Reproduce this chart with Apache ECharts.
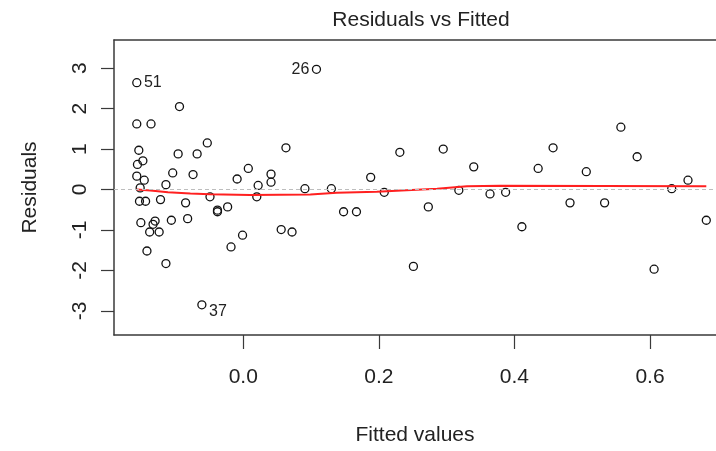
<!DOCTYPE html>
<html>
<head>
<meta charset="utf-8">
<script src="https://cdn.jsdelivr.net/npm/echarts@6/dist/echarts.min.js"></script>
<style>
html,body{margin:0;padding:0;background:#fff;}
#chart{width:716px;height:451px;}
</style>
</head>
<body>
<div id="chart"></div>
<script>
// ---- data ----
const fittedValues = [
  -0.157,-0.094,-0.157,-0.136,-0.154,-0.053,-0.096,-0.068,-0.148,-0.156,
  -0.104,-0.074,-0.157,-0.146,0.0075,-0.009,-0.114,0.022,-0.152,-0.153,
  -0.144,-0.122,-0.085,-0.049,0.020,-0.038,-0.038,-0.023,-0.151,-0.130,
  -0.133,-0.106,-0.082,-0.138,-0.124,-0.001,-0.018,-0.142,-0.114,-0.061,
  0.108,0.063,0.231,0.295,0.340,0.188,0.041,0.041,0.091,0.130,
  0.208,0.148,0.167,0.056,0.072,0.273,0.251,0.318,0.364,0.387,
  0.411,0.557,0.457,0.435,0.581,0.506,0.656,0.632,0.482,0.533,
  0.683,0.606
];
const residuals = [
  2.64,2.05,1.62,1.62,0.97,1.15,0.88,0.88,0.71,0.62,
  0.41,0.37,0.33,0.23,0.52,0.26,0.12,0.10,0.04,-0.29,
  -0.29,-0.25,-0.33,-0.18,-0.18,-0.51,-0.55,-0.43,-0.82,-0.78,
  -0.86,-0.76,-0.72,-1.05,-1.05,-1.13,-1.42,-1.52,-1.83,-2.85,
  2.97,1.03,0.92,1.00,0.56,0.30,0.38,0.18,0.02,0.02,
  -0.07,-0.55,-0.55,-0.99,-1.05,-0.43,-1.90,-0.02,-0.11,-0.07,
  -0.92,1.54,1.03,0.52,0.81,0.44,0.23,0.02,-0.33,-0.33,
  -0.76,-1.97
];
// labelled observations: index into arrays above, text, side
const idIndex = [0, 40, 39];
const idText  = ['51', '26', '37'];
const idSide  = ['right', 'left', 'right'];
// lowess smoother (red line)
const smoothX = [-0.157,-0.137,-0.111,-0.078,-0.049,0.010,0.099,0.138,0.197,0.241,0.286,0.330,0.379,0.683];
const smoothY = [0.0,-0.025,-0.066,-0.099,-0.116,-0.135,-0.123,-0.081,-0.057,-0.017,0.017,0.081,0.091,0.081];
const xTicks = [0.0, 0.2, 0.4, 0.6];
const yTicks = [-3, -2, -1, 0, 1, 2, 3];
const titleText = 'Residuals vs Fitted';
const xName = 'Fitted values';
const yName = 'Residuals';

// ---- chart ----
const FONT = "'Liberation Sans', Arial, sans-serif";
const TXT = '#222';
const BOX = '#3a3a3a';
const xMin = -0.1906, xMax = 0.6973;
const yMin = -3.596, yMax = 3.695;

const pts = fittedValues.map((x, i) => {
  const item = { value: [x, residuals[i]] };
  const k = idIndex.indexOf(i);
  if (k >= 0) {
    item.label = {
      show: true,
      formatter: idText[k],
      position: idSide[k],
      distance: 2.5,
      offset: idText[k] === '37' ? [0, 7] : [0, 0],
      fontSize: 16,
      fontFamily: FONT,
      color: TXT
    };
  }
  return item;
});

const chart = echarts.init(document.getElementById('chart'), null, { renderer: 'canvas' });
chart.setOption({
  animation: false,
  backgroundColor: '#fff',
  grid: { left: 114, right: 0, top: 40, bottom: 115, containLabel: false },
  graphic: [{
    type: 'text', x: 421, y: 20,
    style: { text: titleText, fontSize: 21, fontFamily: FONT, fill: TXT, textAlign: 'center', textVerticalAlign: 'middle' }
  }],
  xAxis: [{
    type: 'value', min: xMin, max: xMax, position: 'bottom',
    name: xName, nameLocation: 'middle', nameGap: 90,
    nameTextStyle: { fontSize: 21, fontFamily: FONT, color: TXT },
    axisLine: { show: true, onZero: false, lineStyle: { color: BOX, width: 1.5 } },
    axisTick: { show: true, inside: false, length: 14, customValues: xTicks, lineStyle: { color: BOX, width: 1.2 } },
    axisLabel: { show: true, margin: 32, customValues: xTicks, fontSize: 21, fontFamily: FONT, color: TXT,
      formatter: v => Number(v).toFixed(1) },
    splitLine: { show: false }
  }, {
    type: 'value', min: xMin, max: xMax, position: 'top',
    axisLine: { show: true, onZero: false, lineStyle: { color: BOX, width: 1.5 } },
    axisTick: { show: false }, axisLabel: { show: false }, splitLine: { show: false }
  }],
  yAxis: [{
    type: 'value', min: yMin, max: yMax, position: 'left',
    name: yName, nameLocation: 'middle', nameGap: 73,
    nameTextStyle: { fontSize: 21, fontFamily: FONT, color: TXT },
    axisLine: { show: true, onZero: false, lineStyle: { color: BOX, width: 1.5 } },
    axisTick: { show: true, inside: false, length: 13, customValues: yTicks, lineStyle: { color: BOX, width: 1.2 } },
    axisLabel: { show: true, rotate: 90, margin: 23, customValues: yTicks, fontSize: 21, fontFamily: FONT, color: TXT,
      formatter: v => String(Math.round(v)) },
    splitLine: { show: false }
  }],
  series: [{
    type: 'scatter',
    xAxisIndex: 0, yAxisIndex: 0,
    symbol: 'circle', symbolSize: 8,
    itemStyle: { color: 'rgba(0,0,0,0)', borderColor: '#111', borderWidth: 1.3, opacity: 1 },
    emphasis: { disabled: true },
    data: pts,
    markLine: {
      silent: true, symbol: 'none', label: { show: false },
      lineStyle: { color: '#bdbdbd', type: [4, 3], width: 1.2 },
      data: [{ yAxis: 0 }]
    },
    z: 3
  }, {
    type: 'line',
    xAxisIndex: 0, yAxisIndex: 0,
    data: smoothX.map((x, i) => [x, smoothY[i]]),
    showSymbol: false, symbol: 'none',
    lineStyle: { color: '#ff2020', width: 2 },
    emphasis: { disabled: true },
    z: 4
  }]
});
</script>
</body>
</html>
